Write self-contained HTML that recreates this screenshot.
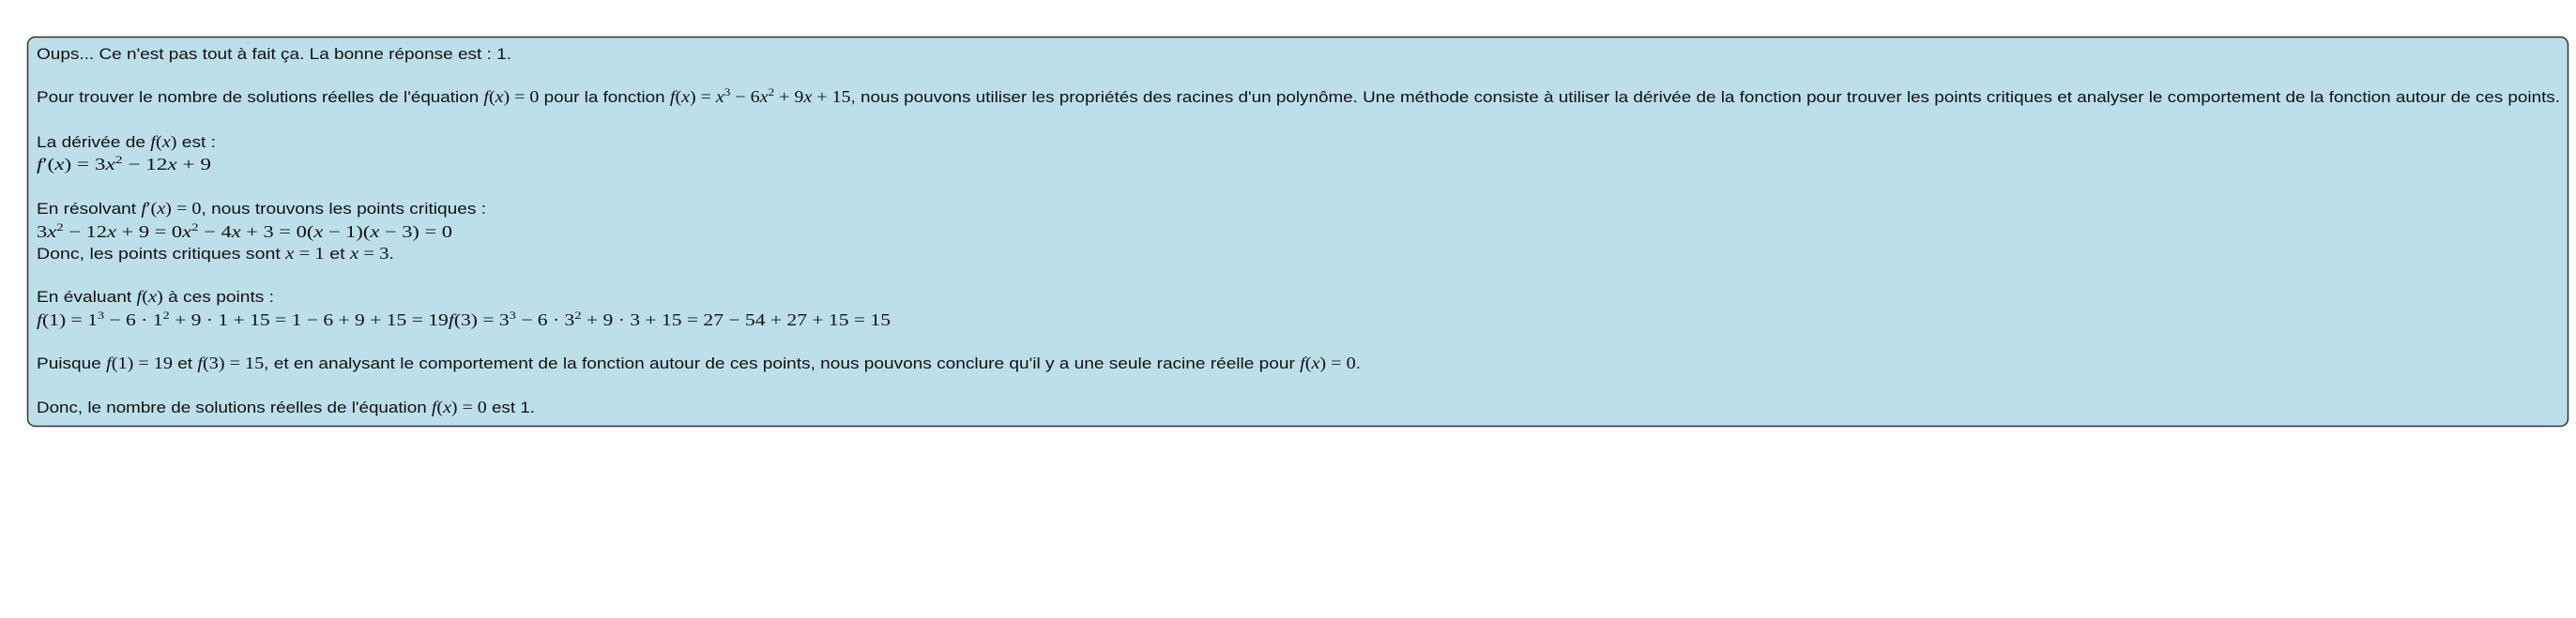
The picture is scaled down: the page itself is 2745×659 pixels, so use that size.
<!DOCTYPE html>
<html><head><meta charset="utf-8"><style>
html,body{margin:0;padding:0;background:#fff;}
svg{display:block}
text{font-family:"Liberation Sans",sans-serif;font-size:17px;fill:#111;}
.m{font-family:"Liberation Serif",serif;font-style:italic;font-size:18px;}
.n{font-family:"Liberation Serif",serif;font-size:18px;}
.s{font-size:12px;}
</style></head><body>
<svg width="2745" height="659" xmlns="http://www.w3.org/2000/svg">
<rect x="29.5" y="39.5" width="2707" height="415" rx="8" fill="#bddfea" stroke="#333" stroke-width="1.5"/>
<text x="39" y="63" textLength="506" lengthAdjust="spacingAndGlyphs">Oups...  Ce n'est pas tout à fait ça.  La bonne réponse est : 1.</text>
<text x="39" y="109" textLength="2689" lengthAdjust="spacingAndGlyphs">Pour trouver le nombre de solutions réelles de l'équation <tspan class="m">f</tspan><tspan class="n">(</tspan><tspan class="m">x</tspan><tspan class="n">) = 0</tspan> pour la fonction <tspan class="m">f</tspan><tspan class="n">(</tspan><tspan class="m">x</tspan><tspan class="n">) = </tspan><tspan class="m">x</tspan><tspan class="n s" dy="-7">3</tspan><tspan class="n" dy="7"> − 6</tspan><tspan class="m">x</tspan><tspan class="n s" dy="-7">2</tspan><tspan class="n" dy="7"> + 9</tspan><tspan class="m">x</tspan><tspan class="n"> + 15</tspan>, nous pouvons utiliser les propriétés des racines d'un polynôme. Une méthode consiste à utiliser la dérivée de la fonction pour trouver les points critiques et analyser le comportement de la fonction autour de ces points.</text>
<text x="39" y="157" textLength="191" lengthAdjust="spacingAndGlyphs">La dérivée de <tspan class="m">f</tspan><tspan class="n">(</tspan><tspan class="m">x</tspan><tspan class="n">)</tspan> est :</text>
<text x="39" y="181" textLength="186" lengthAdjust="spacingAndGlyphs"><tspan class="m">f</tspan><tspan class="n">′(</tspan><tspan class="m">x</tspan><tspan class="n">) = 3</tspan><tspan class="m">x</tspan><tspan class="n s" dy="-7">2</tspan><tspan class="n" dy="7"> − 12</tspan><tspan class="m">x</tspan><tspan class="n"> + 9</tspan></text>
<text x="39" y="228" textLength="479" lengthAdjust="spacingAndGlyphs">En résolvant <tspan class="m">f</tspan><tspan class="n">′(</tspan><tspan class="m">x</tspan><tspan class="n">) = 0</tspan>, nous trouvons les points critiques :</text>
<text x="39" y="253" textLength="443" lengthAdjust="spacingAndGlyphs"><tspan class="n">3</tspan><tspan class="m">x</tspan><tspan class="n s" dy="-7">2</tspan><tspan class="n" dy="7"> − 12</tspan><tspan class="m">x</tspan><tspan class="n"> + 9 = 0</tspan><tspan class="m">x</tspan><tspan class="n s" dy="-7">2</tspan><tspan class="n" dy="7"> − 4</tspan><tspan class="m">x</tspan><tspan class="n"> + 3 = 0(</tspan><tspan class="m">x</tspan><tspan class="n"> − 1)(</tspan><tspan class="m">x</tspan><tspan class="n"> − 3) = 0</tspan></text>
<text x="39" y="276" textLength="381" lengthAdjust="spacingAndGlyphs">Donc, les points critiques sont <tspan class="m">x</tspan><tspan class="n"> = 1</tspan> et <tspan class="m">x</tspan><tspan class="n"> = 3</tspan>.</text>
<text x="39" y="322" textLength="253" lengthAdjust="spacingAndGlyphs">En évaluant <tspan class="m">f</tspan><tspan class="n">(</tspan><tspan class="m">x</tspan><tspan class="n">)</tspan> à ces points :</text>
<text x="39" y="347" textLength="910" lengthAdjust="spacingAndGlyphs"><tspan class="m">f</tspan><tspan class="n">(1) = 1</tspan><tspan class="n s" dy="-7">3</tspan><tspan class="n" dy="7"> − 6 · 1</tspan><tspan class="n s" dy="-7">2</tspan><tspan class="n" dy="7"> + 9 · 1 + 15 = 1 − 6 + 9 + 15 = 19</tspan><tspan class="m">f</tspan><tspan class="n">(3) = 3</tspan><tspan class="n s" dy="-7">3</tspan><tspan class="n" dy="7"> − 6 · 3</tspan><tspan class="n s" dy="-7">2</tspan><tspan class="n" dy="7"> + 9 · 3 + 15 = 27 − 54 + 27 + 15 = 15</tspan></text>
<text x="39" y="393" textLength="1411" lengthAdjust="spacingAndGlyphs">Puisque <tspan class="m">f</tspan><tspan class="n">(1) = 19</tspan> et <tspan class="m">f</tspan><tspan class="n">(3) = 15</tspan>, et en analysant le comportement de la fonction autour de ces points, nous pouvons conclure qu'il y a une seule racine réelle pour <tspan class="m">f</tspan><tspan class="n">(</tspan><tspan class="m">x</tspan><tspan class="n">) = 0</tspan>.</text>
<text x="39" y="440" textLength="531" lengthAdjust="spacingAndGlyphs">Donc, le nombre de solutions réelles de l'équation <tspan class="m">f</tspan><tspan class="n">(</tspan><tspan class="m">x</tspan><tspan class="n">) = 0</tspan> est 1.</text>
</svg>
</body></html>
